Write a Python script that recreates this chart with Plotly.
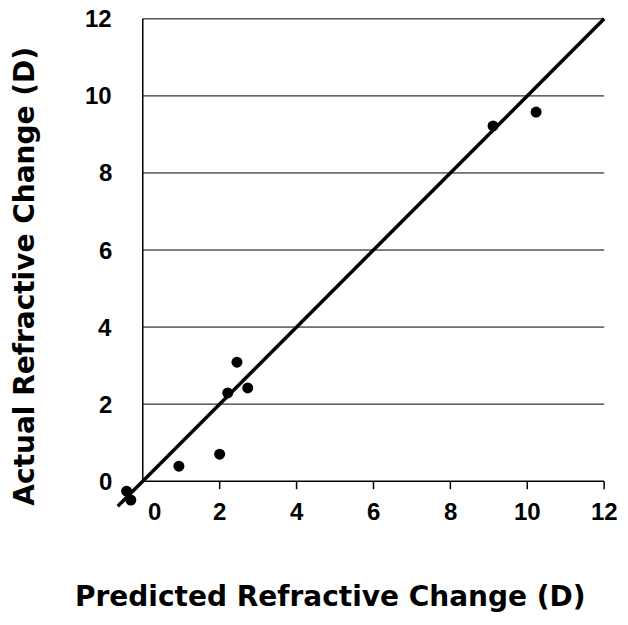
import plotly.graph_objects as go

# Data
predicted = [-0.42, -0.31, 0.94, 2.0, 2.21, 2.45, 2.73, 9.11, 10.23]
actual = [-0.26, -0.49, 0.39, 0.70, 2.29, 3.09, 2.42, 9.22, 9.58]
line_x = [-0.65, 12]
line_y = [-0.65, 12]
x_ticks = [0, 2, 4, 6, 8, 10, 12]
y_ticks = [0, 2, 4, 6, 8, 10, 12]

FONT = "Liberation Sans, Arial, sans-serif"
TITLE_FONT = "DejaVu Sans, Liberation Sans, sans-serif"

fig = go.Figure()
fig.add_trace(go.Scatter(x=line_x, y=line_y, mode="lines",
                         line=dict(color="black", width=3.5),
                         hoverinfo="skip", showlegend=False))
fig.add_trace(go.Scatter(x=predicted, y=actual, mode="markers",
                         marker=dict(color="black", size=11),
                         cliponaxis=False, showlegend=False))

shapes = []
# horizontal gridlines
for v in y_ticks[1:]:
    shapes.append(dict(type="line", xref="x", yref="y", x0=0, x1=x_ticks[-1], y0=v, y1=v,
                       line=dict(color="black", width=1), layer="below"))
# axis lines
shapes.append(dict(type="line", xref="x", yref="y", x0=0, x1=x_ticks[-1], y0=0, y1=0,
                   line=dict(color="black", width=1.5), layer="below"))
shapes.append(dict(type="line", xref="x", yref="y", x0=0, x1=0, y0=0, y1=y_ticks[-1],
                   line=dict(color="black", width=1.5), layer="below"))
# x tick marks
for v in x_ticks[1:]:
    shapes.append(dict(type="line", xref="x", yref="y", x0=v, x1=v,
                       ysizemode="pixel", yanchor=0, y0=0, y1=-8,
                       line=dict(color="black", width=1.5), layer="below"))

annotations = []
for v in x_ticks:
    annotations.append(dict(x=v, y=0, xref="x", yref="y", text=str(v), showarrow=False,
                            xanchor="center", yanchor="middle",
                            xshift=12 if v == 0 else 0, yshift=-30,
                            font=dict(family=FONT, size=24, color="black", weight="bold")))
for v in y_ticks:
    annotations.append(dict(x=0, y=v, xref="x", yref="y", text=str(v), showarrow=False,
                            xanchor="right", yanchor="middle", xshift=-29,
                            font=dict(family=FONT, size=24, color="black", weight="bold")))
annotations.append(dict(x=0.44, y=-0.171, xref="paper", yref="paper",
                        text="Predicted Refractive Change (D)", showarrow=False,
                        xanchor="center", yanchor="middle",
                        font=dict(family=TITLE_FONT, size=28, color="black", weight="bold")))
annotations.append(dict(x=-0.177, y=0.474, xref="paper", yref="paper",
                        text="Actual Refractive Change (D)", showarrow=False, textangle=-90,
                        xanchor="center", yanchor="middle",
                        font=dict(family=TITLE_FONT, size=28, color="black", weight="bold")))

fig.update_layout(
    width=620, height=617,
    margin=dict(l=104, r=20, t=7, b=113),
    plot_bgcolor="white", paper_bgcolor="white",
    xaxis=dict(range=[-0.8, 12.1], showgrid=False, zeroline=False, showticklabels=False,
               showline=False, ticks=""),
    yaxis=dict(range=[-0.8, 12.1], showgrid=False, zeroline=False, showticklabels=False,
               showline=False, ticks=""),
    shapes=shapes, annotations=annotations,
)

fig.write_html("out.html")
